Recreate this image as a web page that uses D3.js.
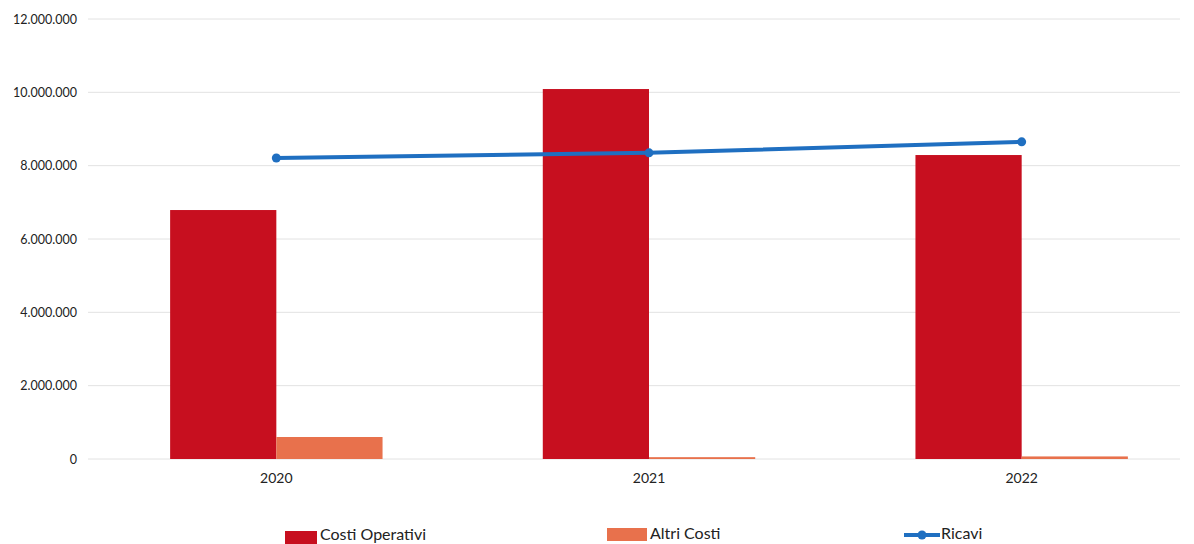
<!DOCTYPE html>
<html>
<head>
<meta charset="utf-8">
<script src="https://cdn.jsdelivr.net/npm/d3@7"></script>
<style>
  body { margin: 0; background: #fff; }
  svg { display: block; font-family: Lato, "Open Sans", sans-serif; }
</style>
</head>
<body>
<div id="chart"></div>
<script>
// data
var years = ["2020", "2021", "2022"];
var costiOperativi = [6790000, 10090000, 8290000];
var altriCosti = [600000, 50000, 70000];
var ricavi = [8210000, 8350000, 8650000];
var yTicks = [0, 2000000, 4000000, 6000000, 8000000, 10000000, 12000000];

var width = 1194, height = 544;
var margin = {top: 19, right: -14, bottom: 85, left: 90};
var innerW = width - margin.left - margin.right,
    innerH = height - margin.top - margin.bottom;

var svg = d3.select("#chart")
  .append("svg")
    .attr("width", width)
    .attr("height", height);

var g = svg.append("g")
  .attr("transform", "translate(" + margin.left + "," + margin.top + ")");

var x = d3.scaleBand()
  .domain(years)
  .range([0, innerW])
  .paddingInner(0.43)
  .paddingOuter(0.215);

var x1 = d3.scaleBand()
  .domain(["op", "altri"])
  .range([0, x.bandwidth()]);

var y = d3.scaleLinear()
  .domain([0, 12000000])
  .range([innerH, 0]);

var fmt = function(v) {
  return d3.format(",")(v).replace(/,/g, ".");
};

// gridlines
g.selectAll(".grid")
  .data(yTicks)
  .enter().append("line")
    .attr("x1", -2)
    .attr("x2", 1090)
    .attr("y1", function(d) { return y(d); })
    .attr("y2", function(d) { return y(d); })
    .style("stroke", "#e2e2e2")
    .style("stroke-width", 1);

// y axis labels
var yAxis = g.append("g")
  .attr("transform", "translate(-10,0)")
  .call(d3.axisLeft(y).tickValues(yTicks).tickSize(0).tickFormat(fmt));
yAxis.select(".domain").remove();
yAxis.selectAll("text")
  .style("font-size", "12.5px")
  .style("font-family", "Lato, sans-serif")
  .style("fill", "#222");

// x axis labels
var xAxis = g.append("g")
  .attr("transform", "translate(0," + innerH + ")")
  .call(d3.axisBottom(x).tickSize(0).tickPadding(14));
xAxis.select(".domain").remove();
xAxis.selectAll("text")
  .style("font-size", "14px")
  .style("font-family", "Lato, sans-serif")
  .style("fill", "#222");

// bars
var groups = g.selectAll(".year")
  .data(years)
  .enter().append("g")
    .attr("transform", function(d) { return "translate(" + x(d) + ",0)"; });

groups.append("rect")
  .attr("x", x1("op"))
  .attr("width", x1.bandwidth())
  .attr("y", function(d, i) { return y(costiOperativi[i]); })
  .attr("height", function(d, i) { return innerH - y(costiOperativi[i]); })
  .style("fill", "#c70f1f");

groups.append("rect")
  .attr("x", x1("altri"))
  .attr("width", x1.bandwidth())
  .attr("y", function(d, i) { return y(altriCosti[i]); })
  .attr("height", function(d, i) { return innerH - y(altriCosti[i]); })
  .style("fill", "#e8714c");

// line
var cx = function(d, i) { return x(years[i]) + x.bandwidth() / 2; };
var line = d3.line()
  .x(cx)
  .y(function(d) { return y(d); });

g.append("path")
  .datum(ricavi)
  .attr("d", line)
  .style("fill", "none")
  .style("stroke", "#1f6fc1")
  .style("stroke-width", 4);

g.selectAll(".dot")
  .data(ricavi)
  .enter().append("circle")
    .attr("cx", cx)
    .attr("cy", function(d) { return y(d); })
    .attr("r", 4.5)
    .style("fill", "#1f6fc1");

// legend
var legend = svg.append("g").attr("transform", "translate(0,534)");

legend.append("rect")
  .attr("x", 285).attr("y", -3).attr("width", 32).attr("height", 13)
  .style("fill", "#c70f1f");
legend.append("text")
  .attr("x", 320).attr("y", 6)
  .style("font-size", "16px").style("fill", "#222")
  .text("Costi Operativi");

legend.append("rect")
  .attr("x", 607).attr("y", -6).attr("width", 40).attr("height", 13)
  .style("fill", "#e8714c");
legend.append("text")
  .attr("x", 650).attr("y", 5)
  .style("font-size", "16px").style("fill", "#222")
  .text("Altri Costi");

legend.append("line")
  .attr("x1", 904).attr("x2", 940).attr("y1", 1).attr("y2", 1)
  .style("stroke", "#1f6fc1").style("stroke-width", 4);
legend.append("circle")
  .attr("cx", 922).attr("cy", 1).attr("r", 4.5)
  .style("fill", "#1f6fc1");
legend.append("text")
  .attr("x", 941).attr("y", 5)
  .style("font-size", "16px").style("fill", "#222")
  .text("Ricavi");
</script>
</body>
</html>
